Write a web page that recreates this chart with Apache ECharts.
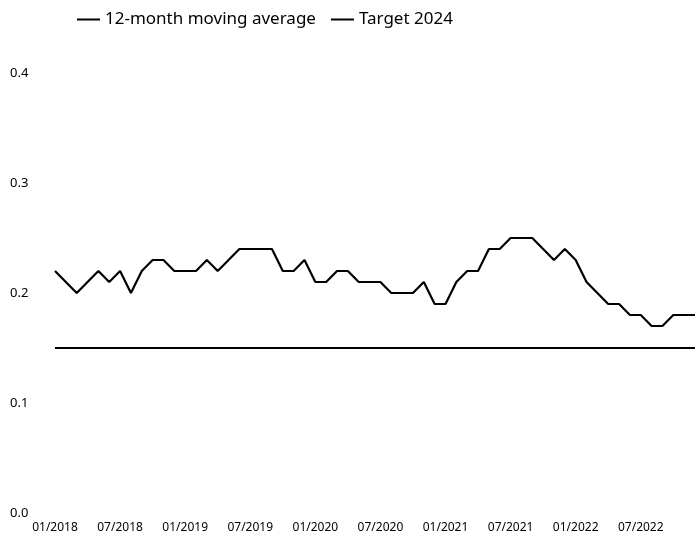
<!DOCTYPE html>
<html>
<head>
<meta charset="utf-8">
<script src="https://cdn.jsdelivr.net/npm/echarts@6/dist/echarts.min.js"></script>
<style>
  html, body { margin: 0; padding: 0; background: #fff; }
  #chart { width: 696px; height: 535px; }
</style>
</head>
<body>
<div id="chart"></div>
<script>
// monthly categories 01/2018 .. 12/2022
const months = []
for (let y = 2018; y <= 2022; y++) {
  for (let m = 1; m <= 12; m++) {
    months.push((m < 10 ? '0' + m : '' + m) + '/' + y)
  }
}

const movingAverage = [
  0.22, 0.21, 0.20, 0.21, 0.22, 0.21, 0.22, 0.20, 0.22, 0.23, 0.23, 0.22,
  0.22, 0.22, 0.23, 0.22, 0.23, 0.24, 0.24, 0.24, 0.24, 0.22, 0.22, 0.23,
  0.21, 0.21, 0.22, 0.22, 0.21, 0.21, 0.21, 0.20, 0.20, 0.20, 0.21, 0.19,
  0.19, 0.21, 0.22, 0.22, 0.24, 0.24, 0.25, 0.25, 0.25, 0.24, 0.23, 0.24,
  0.23, 0.21, 0.20, 0.19, 0.19, 0.18, 0.18, 0.17, 0.17, 0.18, 0.18, 0.18
]

const target2024 = 0.15
const targetLine = months.map(() => target2024)

const yTicks = [0, 0.1, 0.2, 0.3, 0.4]

const font = 'Noto Sans'

const myChart = echarts.init(document.getElementById('chart'))
const option = {
  animation: false,
  textStyle: { fontFamily: font },
  legend: {
    left: 72,
    top: 6,
    icon: 'rect',
    itemWidth: 23,
    itemHeight: 2,
    itemGap: 15,
    textStyle: { fontSize: 17, color: '#000', fontFamily: font },
    data: ['12-month moving average', 'Target 2024']
  },
  grid: {
    left: 55,
    right: 1,
    top: 73,
    bottom: 22
  },
  xAxis: {
    type: 'category',
    boundaryGap: false,
    data: months,
    axisLine: { show: false },
    axisTick: { show: false },
    axisLabel: {
      interval: 5,
      margin: 9,
      fontSize: 12,
      color: '#000',
      fontFamily: font
    }
  },
  yAxis: {
    type: 'value',
    min: yTicks[0],
    max: yTicks[yTicks.length - 1],
    interval: 0.1,
    splitLine: { show: false },
    axisLine: { show: false },
    axisTick: { show: false },
    axisLabel: {
      align: 'left',
      margin: 45,
      fontSize: 13,
      color: '#000',
      fontFamily: font,
      formatter: (v) => v.toFixed(1)
    }
  },
  series: [
    {
      name: '12-month moving average',
      type: 'line',
      data: movingAverage,
      showSymbol: false,
      lineStyle: { color: '#000', width: 2.2 },
      itemStyle: { color: '#000' }
    },
    {
      name: 'Target 2024',
      type: 'line',
      data: targetLine,
      showSymbol: false,
      lineStyle: { color: '#000', width: 2.2 },
      itemStyle: { color: '#000' }
    }
  ]
}
myChart.setOption(option)
</script>
</body>
</html>
